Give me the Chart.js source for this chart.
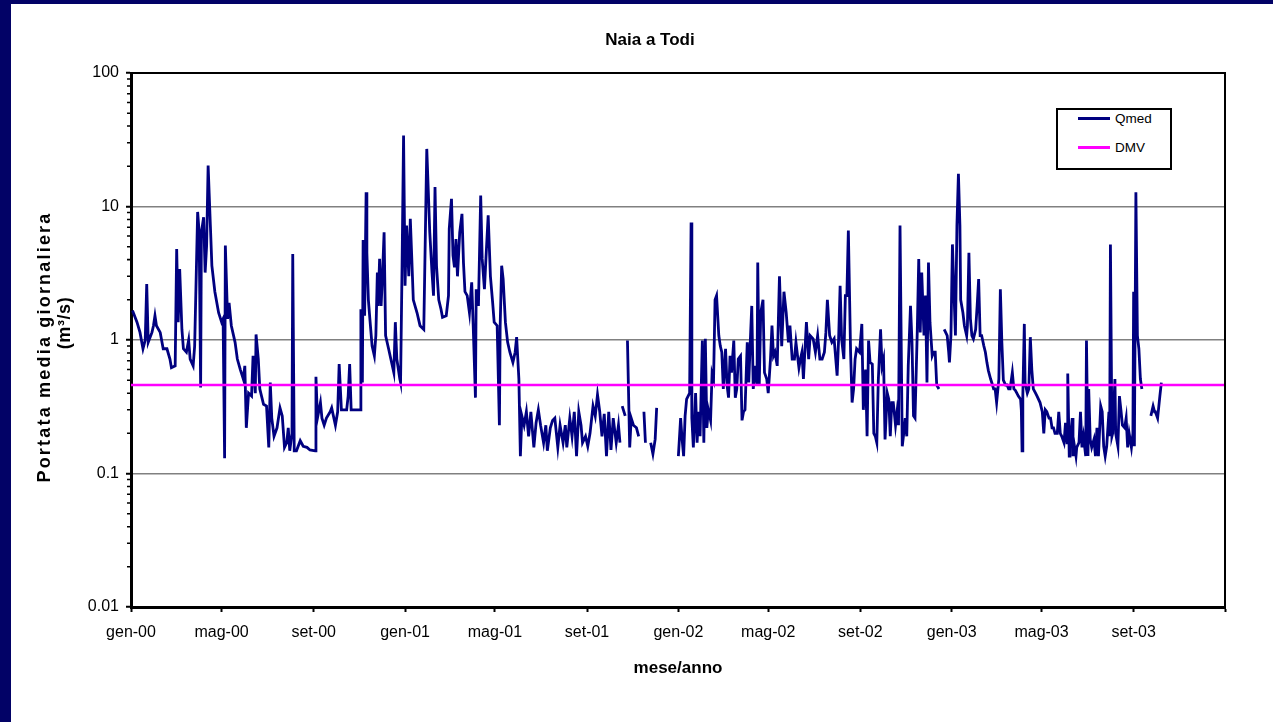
<!DOCTYPE html>
<html>
<head>
<meta charset="utf-8">
<title>Naia a Todi</title>
<script src="https://cdn.jsdelivr.net/npm/chart.js@4.4.1/dist/chart.umd.min.js"></script>
<style>
  html, body { margin: 0; padding: 0; }
  body {
    width: 1273px; height: 722px; overflow: hidden; position: relative;
    background: #020266;
    font-family: "Liberation Sans", Arial, sans-serif;
  }
  #panel { position: absolute; left: 11px; top: 4px; width: 1262px; height: 718px; background: #fff; }
  #chart { position: absolute; left: 0; top: 0; }
  #legend {
    position: absolute; left: 1045px; top: 104px; width: 112px; height: 58px;
    border: 2px solid #000; background: #fff;
  }
  .item { position: absolute; left: 0; width: 112px; height: 18px; line-height: 18px; font-size: 13.5px; color: #000; }
  .item .swatch { position: absolute; left: 20px; top: 7px; width: 32px; height: 3px; }
  .item .lbl { position: absolute; left: 57px; top: 0; white-space: nowrap; }
</style>
</head>
<body>
<div id="panel">
  <canvas id="chart" width="1262" height="718"></canvas>
  <div id="legend"></div>
</div>
<script>
// x axis: days counted from 1 Jan 2000, ticks every 4 months
const xTickDays = [0, 121, 244, 366, 486, 609, 731, 851, 974, 1096, 1216, 1339, 1461];
const xTickLabels = ['gen-00', 'mag-00', 'set-00', 'gen-01', 'mag-01', 'set-01',
  'gen-02', 'mag-02', 'set-02', 'gen-03', 'mag-03', 'set-03', ''];

const yTickValues = [0.01, 0.1, 1, 10, 100];
const yTickLabels = ['0.01', '0.1', '1', '10', '100'];

// Qmed (m3/s); null = missing data
const daysA = [
  2, 8, 12, 16, 19, 21, 23, 28, 30, 32,
  34, 39, 43, 48, 52, 54, 59, 61, 63, 65,
  68, 70, 74, 77, 79, 83, 85, 89, 91, 93,
  94, 97, 99, 101, 103, 106, 108, 112, 117, 121,
  123, 125, 126, 129, 131, 134, 139, 142, 146, 150,
  152, 154, 157, 161, 163, 166, 167, 170, 172, 177,
  181, 184, 186, 188, 191, 195, 199, 202, 205, 208,
  210, 212, 215, 216, 218, 221, 226, 230, 235, 239,
  246, 247, 249, 253, 255, 258, 261, 266, 268, 273,
  276, 278, 281, 284, 288, 290, 292, 294, 297, 302,
  306, 307, 309, 310, 312, 314, 315, 317, 319, 322,
  325, 327, 329, 330, 332, 334, 336, 338, 340, 344,
  347, 351, 353, 355, 359, 360, 362, 364, 366, 368,
  371, 373, 375, 377, 382, 386];
const qmedA = [
  1.66, 1.36, 1.14, 0.86, 1.0, 2.63, 0.96, 1.14, 1.28, 1.52,
  1.28, 1.14, 0.86, 0.86, 0.72, 0.62, 0.64, 4.8, 1.36, 3.4,
  1.2, 0.86, 0.81, 1.0, 0.72, 0.64, 0.9, 9.1, 6.4, 0.44,
  6.4, 8.3, 3.2, 5.1, 20.3, 7.2, 3.6, 2.3, 1.6, 1.36,
  1.44, 0.13, 5.1, 1.44, 1.9, 1.28, 0.96, 0.72, 0.6, 0.51,
  0.64, 0.22, 0.4, 0.38, 0.76, 0.4, 1.1, 0.72, 0.43, 0.33,
  0.32, 0.157, 0.48, 0.26, 0.19, 0.22, 0.31, 0.27, 0.157, 0.17,
  0.22, 0.148, 0.2, 4.4, 0.148, 0.148, 0.176, 0.16, 0.157, 0.15,
  0.148, 0.53, 0.26, 0.34, 0.26, 0.23, 0.26, 0.29, 0.31, 0.23,
  0.29, 0.66, 0.3, 0.3, 0.3, 0.38, 0.66, 0.3, 0.3, 0.3,
  0.3, 1.7, 0.48, 5.6, 1.52, 12.8, 4.5, 2.0, 1.44, 0.9,
  0.76, 1.08, 3.2, 1.8, 4.05, 1.8, 3.2, 6.4, 1.08, 0.86,
  0.72, 0.57, 1.36, 0.72, 0.51, 0.48, 3.6, 34, 2.55, 7.2,
  3.0, 8.1, 4.05, 2.0, 1.6, 1.28];

const daysB = [
  391, 395, 399, 402, 404, 406, 408, 411, 414, 416,
  421, 424, 425, 428, 430, 432, 434, 436, 439, 442,
  444, 446, 449, 452, 454, 455, 457, 460, 461, 464,
  467, 469, 472, 474, 477, 480, 483, 485, 489, 492,
  493, 495, 497, 500, 503, 506, 510, 513, 515, 518,
  520, 522, 525, 528, 531, 534, 538, 541, 544, 547,
  551, 554, 556, 560, 563, 566, 570, 573, 577, 580,
  582, 586, 589, 592, 595, 598, 601, 603, 607, 610,
  613, 617, 620, 623, 626, 629, 632, 635, 638, 641,
  644, 648, 651, 653, 654, 656, 660, 661, 663, 666,
  668, 671, 675, 678, 680, 685, 687, 690, 694, 697,
  700, 702, 710, 731, 734, 736, 738, 740, 742, 746,
  748, 749, 751, 754, 756, 758, 760, 763, 765, 767,
  769, 771, 774, 776, 778, 780, 782, 785, 787];
const qmedB = [
  1.2, 27, 6.4, 3.2, 2.15, 14, 3.6, 2.0, 1.7, 1.48,
  1.52, 2.15, 6.8, 11.4, 4.3, 3.5, 5.7, 3.0, 6.4, 8.8,
  3.8, 2.3, 2.15, 1.6, 2.3, 2.7, 1.28, 0.37, 2.4, 1.8,
  12.1, 4.05, 2.4, 4.05, 8.6, 3.0, 1.9, 1.36, 1.28, 0.23,
  1.28, 3.6, 2.86, 1.36, 0.96, 0.81, 0.68, 0.81, 1.05, 0.51,
  0.135, 0.27, 0.23, 0.29, 0.19, 0.29, 0.157, 0.24, 0.3, 0.23,
  0.17, 0.23, 0.148, 0.22, 0.25, 0.26, 0.157, 0.23, 0.17, 0.23,
  0.157, 0.26, 0.19, 0.29, 0.135, 0.29, 0.23, 0.17, 0.19, 0.16,
  0.2, 0.32, 0.27, 0.39, 0.29, 0.19, 0.28, 0.135, 0.29, 0.15,
  0.26, 0.17, 0.23, 0.17, null, 0.32, 0.27, null, 0.99, 0.157,
  0.26, 0.23, 0.22, 0.19, null, 0.29, 0.17, null, 0.17, 0.14,
  0.18, 0.31, null, 0.135, 0.26, 0.18, 0.135, 0.27, 0.36, 0.4,
  7.6, 0.26, 0.157, 0.4, 0.17, 0.29, 0.19, 0.99, 0.17, 1.02,
  0.22, 0.3, 0.25, 0.56, 0.51, 2.0, 2.15, 1.08, 0.9];

const daysC = [
  789, 791, 794, 796, 798, 800, 802, 805, 807, 809,
  811, 814, 816, 818, 820, 823, 825, 827, 829, 831,
  834, 836, 837, 839, 841, 844, 846, 849, 851, 854,
  856, 858, 860, 863, 866, 869, 872, 875, 878, 880,
  883, 886, 888, 892, 894, 896, 898, 902, 905, 907,
  911, 914, 917, 920, 923, 926, 928, 930, 933, 936,
  939, 943, 945, 947, 949, 952, 954, 956, 958, 961,
  963, 965, 967, 969, 973, 976, 978, 981, 983, 985,
  987, 990, 992, 994, 996, 998, 1001, 1003, 1005, 1007,
  1010, 1012, 1014, 1016, 1018, 1021, 1023, 1025, 1027, 1030,
  1032, 1034, 1036, 1038, 1041, 1043, 1045, 1047, 1050, 1052,
  1054, 1056, 1059, 1061, 1063, 1065, 1067, 1070, 1072, 1074,
  1076, 1079, 1082, 1086, 1090, 1092, 1093, 1095, 1097, 1099,
  1101, 1103, 1105, 1107, 1108, 1111, 1113, 1116, 1117, 1119,
  1121, 1123, 1125, 1128, 1130, 1132, 1134, 1136, 1139, 1141,
  1143, 1145, 1148, 1150, 1152, 1154, 1156, 1159, 1161, 1163,
  1165, 1168, 1170, 1172, 1174, 1177, 1179, 1181, 1183, 1185,
  1188, 1189, 1190, 1191, 1193, 1194, 1197, 1199, 1201, 1203,
  1205, 1208, 1210];
const qmedC = [
  0.81, 0.43, 0.86, 0.46, 0.37, 0.76, 0.57, 0.99, 0.37, 0.43,
  0.72, 0.76, 0.25, 0.29, 0.3, 0.96, 0.48, 0.96, 1.8, 0.43,
  0.64, 0.46, 3.8, 0.46, 1.6, 2.0, 0.57, 0.51, 0.4, 0.72,
  1.28, 0.76, 0.81, 0.64, 3.0, 0.9, 2.3, 1.6, 0.96, 1.28,
  0.72, 0.72, 0.96, 0.62, 0.72, 0.81, 0.51, 1.36, 0.72, 1.08,
  1.02, 0.81, 1.08, 0.72, 0.72, 0.81, 1.14, 2.0, 1.08, 0.96,
  1.02, 0.54, 1.02, 2.55, 1.02, 0.72, 2.15, 2.15, 6.6, 0.81,
  0.34, 0.43, 0.72, 0.86, 0.81, 1.32, 0.3, 0.6, 0.19, 0.99,
  0.68, 0.66, 0.2, 0.19, 0.17, 0.5, 1.2, 0.64, 0.72, 0.18,
  0.4, 0.36, 0.19, 0.34, 0.34, 0.23, 0.29, 0.23, 7.2, 0.16,
  0.2, 0.26, 0.19, 0.64, 1.8, 0.96, 0.27, 0.26, 1.14, 4.05,
  1.14, 3.2, 1.08, 2.15, 0.48, 3.8, 1.36, 0.76, 0.81, 0.81,
  0.46, 0.43, null, 1.2, 1.08, 0.81, 0.68, 1.08, 5.2, 2.3,
  1.08, 7.2, 17.6, 7.2, 2.0, 1.6, 1.28, 1.08, 1.28, 4.5,
  1.44, 1.08, 1.02, 1.2, 1.8, 2.86, 1.08, 1.08, 0.9, 0.81,
  0.68, 0.59, 0.51, 0.47, 0.43, 0.43, 0.34, 0.51, 2.4, 0.96,
  0.5, 0.46, 0.46, 0.43, 0.43, 0.57, 0.43, 0.42, 0.4, 0.38,
  0.36, 0.3, 0.148, 0.38, 1.32, 0.48, 0.4, 0.43, 1.05, 0.6,
  0.43, 0.4, 0.38];

const daysD = [
  1214, 1217, 1219, 1221, 1223, 1226, 1228, 1230, 1232, 1234,
  1237, 1239, 1241, 1243, 1246, 1248, 1250, 1251, 1253, 1254,
  1257, 1258, 1260, 1262, 1263, 1266, 1268, 1270, 1272, 1275,
  1276, 1278, 1279, 1281, 1283, 1286, 1288, 1290, 1292, 1295,
  1297, 1299, 1301, 1303, 1306, 1307, 1308, 1310, 1311, 1314,
  1315, 1318, 1320, 1322, 1324, 1327, 1329, 1331, 1333, 1336,
  1338, 1339, 1340, 1342, 1344, 1346, 1348, 1350, 1356, 1362,
  1365, 1367, 1368, 1371, 1374, 1376];
const qmedD = [
  0.34, 0.29, 0.2, 0.3, 0.29, 0.26, 0.26, 0.22, 0.22, 0.2,
  0.2, 0.29, 0.2, 0.19, 0.17, 0.24, 0.17, 0.56, 0.135, 0.17,
  0.26, 0.135, 0.16, 0.135, 0.157, 0.17, 0.29, 0.157, 0.19, 0.135,
  0.99, 0.135, 0.43, 0.18, 0.157, 0.18, 0.135, 0.22, 0.135, 0.32,
  0.29, 0.16, 0.135, 0.16, 0.29, 0.19, 5.2, 0.19, 0.2, 0.51,
  0.2, 0.16, 0.38, 0.3, 0.23, 0.22, 0.26, 0.157, 0.2, 0.157,
  0.2, 2.3, 0.16, 12.8, 1.08, 0.86, 0.51, 0.43, null, 0.27,
  0.32, 0.29, 0.29, 0.26, 0.38, 0.48];

// DMV (minimum vital flow), constant
const dmvDays = [0, 1461];
const dmvValues = [0.46, 0.46];

const FONT = '"Liberation Sans", Arial, sans-serif';

const qDays = daysA.concat(daysB, daysC, daysD);
const qVals = qmedA.concat(qmedB, qmedC, qmedD);
const qPoints = qDays.map((d, i) => ({ x: d, y: qVals[i] }));
const dmvPoints = dmvDays.map((d, i) => ({ x: d, y: dmvValues[i] }));

// top and right sides of the plot frame
const framePlugin = {
  id: 'frame',
  afterDraw(chart) {
    const { ctx, chartArea: a } = chart;
    ctx.save();
    ctx.strokeStyle = '#000';
    ctx.lineWidth = 2;
    ctx.beginPath();
    ctx.moveTo(a.left, a.top);
    ctx.lineTo(a.right, a.top);
    ctx.lineTo(a.right, a.bottom);
    ctx.stroke();
    ctx.restore();
  }
};

// small log ticks 2..9 on the outside of the y axis
const minorTicksPlugin = {
  id: 'minorTicks',
  afterDraw(chart) {
    const { ctx } = chart;
    const y = chart.scales.y;
    const left = chart.chartArea.left;
    ctx.save();
    ctx.strokeStyle = '#000';
    ctx.lineWidth = 1.5;
    ctx.beginPath();
    yTickValues.slice(0, -1).forEach(dec => {
      for (let m = 2; m <= 9; m++) {
        const py = y.getPixelForValue(m * dec);
        ctx.moveTo(left - 4, py);
        ctx.lineTo(left, py);
      }
    });
    ctx.stroke();
    ctx.restore();
  }
};

// two line y axis title, spaced out like the original
const yTitlePlugin = {
  id: 'yTitle',
  afterDraw(chart) {
    const { ctx, chartArea: a } = chart;
    const mid = (a.top + a.bottom) / 2;
    const lines = [
      { text: 'Portata media giornaliera', x: 34, dy: 7, spacing: '2.2px' },
      { text: '(m\u00b3/s)', x: 54, dy: -17, spacing: '0.6px' }
    ];
    ctx.save();
    ctx.fillStyle = '#000';
    ctx.font = 'bold 18px ' + FONT;
    ctx.textAlign = 'center';
    ctx.textBaseline = 'middle';
    lines.forEach(l => {
      ctx.save();
      ctx.translate(l.x, mid + l.dy);
      ctx.rotate(-Math.PI / 2);
      ctx.letterSpacing = l.spacing;
      ctx.fillText(l.text, 0, 0);
      ctx.restore();
    });
    ctx.restore();
  }
};

const chart = new Chart(document.getElementById('chart'), {
  type: 'line',
  data: {
    datasets: [
      {
        label: 'Qmed', data: qPoints, order: 2,
        borderColor: '#000080', borderWidth: 2.8,
        pointRadius: 0, tension: 0, spanGaps: false
      },
      {
        label: 'DMV', data: dmvPoints, order: 1,
        borderColor: '#ff00ff', borderWidth: 2.6,
        pointRadius: 0, tension: 0
      }
    ]
  },
  options: {
    responsive: false,
    animation: false,
    devicePixelRatio: 1,
    layout: { padding: { left: 16, right: 0, top: 0, bottom: 0 } },
    plugins: {
      legend: { display: false },
      tooltip: { enabled: false },
      title: {
        display: true, text: 'Naia a Todi', color: '#000',
        font: { family: FONT, size: 17, weight: 'bold' },
        padding: { top: 25.8, bottom: 22.8 }
      }
    },
    scales: {
      x: {
        type: 'linear', min: 0, max: 1461,
        afterBuildTicks: s => { s.ticks = xTickDays.map(v => ({ value: v })); },
        afterFit: s => { s.height = 115; },
        ticks: {
          autoSkip: false, maxRotation: 0, padding: 11, color: '#000',
          font: { family: FONT, size: 16 },
          callback: (v, i) => xTickLabels[i]
        },
        grid: { drawOnChartArea: false, tickLength: 5, tickWidth: 2, tickColor: '#000' },
        border: { color: '#000', width: 3 },
        title: {
          display: true, text: 'mese/anno', color: '#000',
          font: { family: FONT, size: 17, weight: 'bold' },
          padding: { top: 0, bottom: 43.8 }
        }
      },
      y: {
        type: 'logarithmic', min: 0.01, max: 100,
        afterBuildTicks: s => { s.ticks = yTickValues.map(v => ({ value: v })); },
        afterFit: s => { s.width = 104; },
        ticks: {
          autoSkip: false, padding: 7, color: '#000',
          font: { family: FONT, size: 16 },
          callback: (v, i) => yTickLabels[i]
        },
        grid: {
          color: c => (c.index > 0 && c.index < yTickValues.length - 1) ? '#808080' : 'rgba(0,0,0,0)',
          lineWidth: 1.5, tickLength: 5, tickWidth: 2, tickColor: '#000'
        },
        border: { color: '#000', width: 3 }
      },
      // empty axis that only keeps space on the right
      yr: {
        type: 'linear', position: 'right', display: true,
        grid: { display: false }, ticks: { display: false }, border: { display: false },
        afterFit: s => { s.width = 48; }
      }
    }
  },
  plugins: [framePlugin, minorTicksPlugin, yTitlePlugin]
});

// legend box inside the plot, built from the datasets
const legend = document.getElementById('legend');
chart.data.datasets.forEach((ds, i) => {
  const item = document.createElement('div');
  item.className = 'item';
  item.style.top = (i * 29) + 'px';
  item.innerHTML = '<span class="swatch" style="background:' + ds.borderColor + '"></span>' +
    '<span class="lbl">' + ds.label + '</span>';
  legend.appendChild(item);
});
</script>
</body>
</html>
